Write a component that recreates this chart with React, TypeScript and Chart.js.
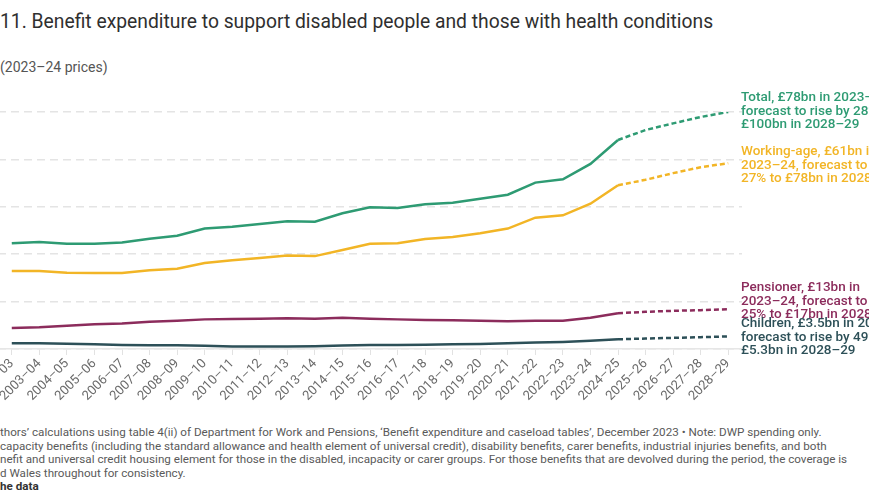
import React, { useEffect, useRef } from "react";
import { Chart, registerables } from "chart.js";

Chart.register(...registerables);

const categories = [
  "2002–03", "2003–04", "2004–05", "2005–06", "2006–07", "2007–08", "2008–09",
  "2009–10", "2010–11", "2011–12", "2012–13", "2013–14", "2014–15", "2015–16",
  "2016–17", "2017–18", "2018–19", "2019–20", "2020–21", "2021–22", "2022–23",
  "2023–24", "2024–25", "2025–26", "2026–27", "2027–28", "2028–29",
];

const total = [
  44.6, 45.1, 44.4, 44.4, 44.9, 46.5, 47.8, 50.8, 51.6, 52.7, 53.9, 53.7, 57.3,
  59.8, 59.5, 61.1, 61.7, 63.4, 65.1, 70.2, 71.6, 78.1, 88.2, 92.4, 95.2, 97.9, 100,
];
const workingAge = [
  32.9, 32.9, 32.2, 32.1, 32.1, 33.2, 33.9, 36.3, 37.4, 38.4, 39.4, 39.2, 41.8,
  44.4, 44.6, 46.4, 47.3, 48.8, 50.8, 55.4, 56.4, 61.3, 69.1, 71.4, 74.2, 76.7, 78.4,
];
const pensioner = [
  8.9, 9.2, 9.8, 10.4, 10.8, 11.5, 11.9, 12.5, 12.7, 12.8, 13.0, 12.8, 13.2,
  12.8, 12.5, 12.2, 12.1, 11.9, 11.7, 11.9, 11.9, 13.2, 15.1, 15.7, 16.1, 16.4, 16.8,
];
const children = [
  2.4, 2.4, 2.2, 2.0, 1.7, 1.6, 1.6, 1.4, 1.1, 1.1, 1.1, 1.2, 1.5,
  1.7, 1.7, 1.8, 2.0, 2.1, 2.4, 2.7, 3.0, 3.5, 4.1, 4.4, 4.7, 5.0, 5.3,
];

const yTicks = [0, 20, 40, 60, 80, 100];
const FORECAST_START = 22; // index of 2024–25, forecasts dashed after this

const COLORS = {
  total: "#2e9b73",
  working: "#f2b526",
  pensioner: "#8c2c5c",
  children: "#2d5058",
};

const FONT = "Roboto, 'Noto Sans', sans-serif";

const labels = [
  { color: COLORS.total, top: 90, lines: ["Total, £78bn in 2023–24,", "forecast to rise by 28% to", "£100bn in 2028–29"] },
  { color: COLORS.working, top: 144, lines: ["Working-age, £61bn in", "2023–24, forecast to rise by", "27% to £78bn in 2028–29"] },
  { color: COLORS.pensioner, top: 280, lines: ["Pensioner, £13bn in", "2023–24, forecast to rise by", "25% to £17bn in 2028–29"] },
  { color: COLORS.children, top: 316, lines: ["Children, £3.5bn in 2023–24,", "forecast to rise by 49% to", "£5.3bn in 2028–29"] },
];

const footerLines = [
  "thors’ calculations using table 4(ii) of Department for Work and Pensions, ‘Benefit expenditure and caseload tables’, December 2023 • Note: DWP spending only.",
  "capacity benefits (including the standard allowance and health element of universal credit), disability benefits, carer benefits, industrial injuries benefits, and both",
  "nefit and universal credit housing element for those in the disabled, incapacity or carer groups. For those benefits that are devolved during the period, the coverage is",
  "d Wales throughout for consistency.",
];

function makeDataset(label: string, data: number[], color: string) {
  return {
    label,
    data,
    borderColor: color,
    backgroundColor: color,
    borderWidth: 2.5,
    pointRadius: 0,
    tension: 0,
    fill: false,
    segment: {
      borderDash: (ctx: any) => (ctx.p0DataIndex >= FORECAST_START ? [5, 3] : undefined),
    },
  };
}

export default function App() {
  const canvasRef = useRef<HTMLCanvasElement | null>(null);

  useEffect(() => {
    const canvas = canvasRef.current;
    if (!canvas) return;
    const chart = new Chart(canvas, {
      type: "line",
      data: {
        labels: categories,
        datasets: [
          makeDataset("Total", total, COLORS.total),
          makeDataset("Working-age", workingAge, COLORS.working),
          makeDataset("Pensioner", pensioner, COLORS.pensioner),
          makeDataset("Children", children, COLORS.children),
        ],
      },
      options: {
        responsive: false,
        animation: false,
        layout: { padding: { top: 4, left: 0, right: 0, bottom: 0 } },
        plugins: {
          legend: { display: false },
          tooltip: { enabled: false },
          title: { display: false },
        },
        scales: {
          x: {
            type: "category",
            offset: true,
            grid: {
              display: true,
              drawOnChartArea: false,
              drawTicks: true,
              tickLength: 6,
              color: "#e2e2e2",
              offset: false,
            },
            border: { display: true, color: "#e6e6e6", width: 1.5 },
            ticks: {
              autoSkip: false,
              minRotation: 45,
              maxRotation: 45,
              color: "#6a6a6a",
              padding: 1,
              font: { family: FONT, size: 13 },
            },
            afterFit: (s: any) => {
              s.height = 70;
              s.paddingLeft = 0;
              s.paddingRight = 0;
            },
          },
          y: {
            min: 0,
            max: 100,
            afterBuildTicks: (s: any) => {
              s.ticks = yTicks.map((v) => ({ value: v }));
            },
            ticks: { display: false },
            grid: { color: "#e4e4e4", lineWidth: 1.5, drawTicks: false },
            border: { display: false, dash: [8, 5] },
            afterFit: (s: any) => {
              s.width = 0;
              s.paddingTop = 0;
              s.paddingBottom = 0;
            },
          },
        },
      },
    });
    return () => chart.destroy();
  }, []);

  return (
    <div
      style={{
        position: "fixed",
        left: 0,
        top: 0,
        width: 869,
        height: 504,
        overflow: "hidden",
        background: "#ffffff",
        fontFamily: FONT,
      }}
    >
      <div
        style={{
          position: "absolute",
          left: 0,
          top: 12,
          fontSize: 19.3,
          lineHeight: "20px",
          fontWeight: 400,
          color: "#2f2f2f",
          whiteSpace: "nowrap",
        }}
      >
        11. Benefit expenditure to support disabled people and those with health conditions
      </div>
      <div
        style={{
          position: "absolute",
          left: 0,
          top: 59,
          fontSize: 14,
          lineHeight: "16px",
          color: "#555555",
          whiteSpace: "nowrap",
        }}
      >
        (2023–24 prices)
      </div>
      <canvas
        ref={canvasRef}
        width={744}
        height={311}
        style={{ position: "absolute", left: -2, top: 108, width: 744, height: 311 }}
      />
      {labels.map((l, i) => (
        <div
          key={i}
          style={{
            position: "absolute",
            left: 741,
            top: l.top,
            color: l.color,
            fontSize: 13.5,
            lineHeight: "13.5px",
            fontWeight: 500,
            whiteSpace: "nowrap",
          }}
        >
          {l.lines.map((t, j) => (
            <div key={j}>{t}</div>
          ))}
        </div>
      ))}
      <div
        style={{
          position: "absolute",
          left: 0,
          top: 426,
          fontSize: 11.65,
          lineHeight: "13.5px",
          color: "#5a5a5a",
          whiteSpace: "nowrap",
        }}
      >
        {footerLines.map((t, j) => (
          <div key={j}>{t}</div>
        ))}
        <div style={{ fontWeight: 700, color: "#333333" }}>he data</div>
      </div>
    </div>
  );
}
